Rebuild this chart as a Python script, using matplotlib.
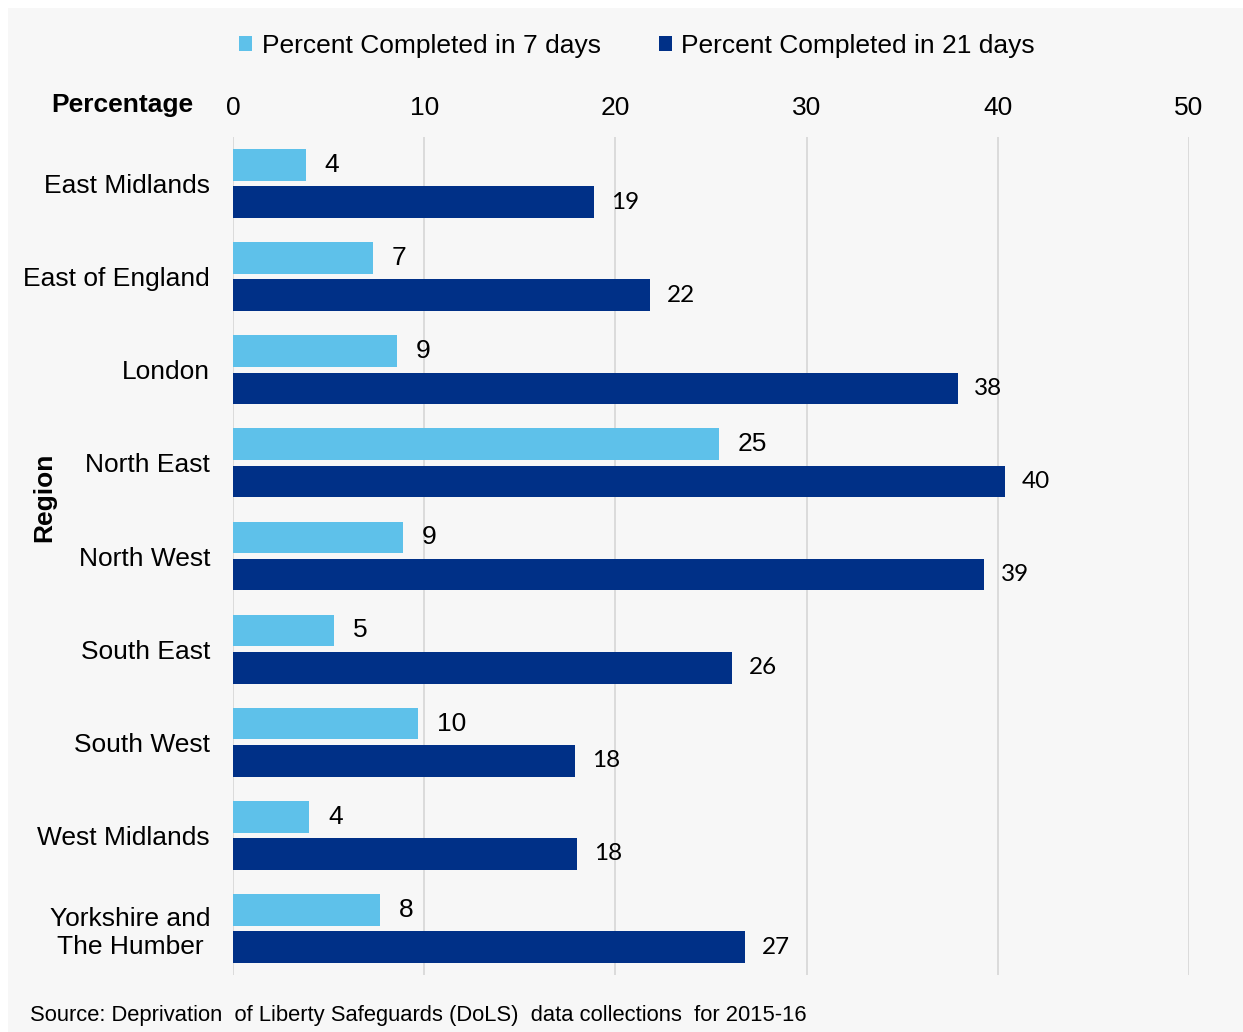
import matplotlib
matplotlib.use("Agg")
import matplotlib.pyplot as plt
import numpy as np
from matplotlib.patches import Rectangle, Patch

# Data: DoLS applications completed within 7 and 21 days, by region (%)
regions = [
    "East Midlands", "East of England", "London", "North East", "North West",
    "South East", "South West", "West Midlands", "Yorkshire and\nThe Humber",
]
pct_7_days = [3.8, 7.3, 8.6, 25.4, 8.9, 5.3, 9.7, 4.0, 7.7]
pct_21_days = [18.9, 21.8, 37.9, 40.4, 39.3, 26.1, 17.9, 18.0, 26.8]
series_names = ["Percent Completed in 7 days", "Percent Completed in 21 days"]
x_ticks = [0, 10, 20, 30, 40, 50]
source_note = "Source: Deprivation  of Liberty Safeguards (DoLS)  data collections  for 2015-16"

LIGHT = "#5EC1EA"
DARK = "#003087"
PANEL = "#F7F7F7"
GRID = "#D9D9D9"
FONT = "Liberation Sans"
FS = 19

W, H = 1243, 1032
fig = plt.figure(figsize=(W / 100, H / 100), dpi=100, facecolor="white")

# light grey panel behind the chart
fig.patches.append(Rectangle((8 / W, 0), 1, 1 - 8 / H, transform=fig.transFigure,
                             facecolor=PANEL, edgecolor="none", zorder=-10))

ax = fig.add_axes([233 / W, 1 - 975 / H, (1189 - 233) / W, (975 - 137) / H])
ax.set_facecolor(PANEL)

y = np.arange(len(regions))
bar_h = 0.34
b7 = ax.barh(y - 0.2, pct_7_days, height=bar_h, color=LIGHT, zorder=3)
b21 = ax.barh(y + 0.2, pct_21_days, height=bar_h, color=DARK, zorder=3)

ax.bar_label(b7, fmt="%.0f", padding=13.5, fontsize=FS, family=FONT, color="black")
ax.bar_label(b21, fmt="%.0f", padding=12, fontsize=17.5, family="Lato", color="black")

ax.set_xlim(0, 50)
ax.set_ylim(len(regions) - 0.5, -0.5)
ax.set_xticks(x_ticks)
ax.xaxis.tick_top()
ax.set_yticks(y)
ax.set_yticklabels(regions)
for lbl in ax.get_yticklabels():
    lbl.set_multialignment("center")

ax.tick_params(axis="both", length=0, labelsize=FS, labelcolor="black")
ax.tick_params(axis="x", pad=12.5)
ax.tick_params(axis="y", pad=16.5)
for lbl in ax.get_xticklabels() + ax.get_yticklabels():
    lbl.set_family(FONT)

ax.grid(axis="x", color=GRID, linewidth=1.3, zorder=0)
ax.grid(axis="y", visible=False)
for s in ax.spines.values():
    s.set_visible(False)

# axis titles
fig.text(193 / W, 1 - 105 / H, "Percentage", ha="right", va="center",
         fontsize=FS, fontweight="bold", family=FONT)
fig.text(44 / W, 1 - 497 / H, "Region", ha="center", va="center", rotation=90,
         fontsize=FS, fontweight="bold", family=FONT)

# legend
handles = [Patch(facecolor=LIGHT, edgecolor="none"), Patch(facecolor=DARK, edgecolor="none")]
fig.legend(handles, series_names, loc="center", bbox_to_anchor=(637 / W, 1 - 46 / H),
           ncol=2, frameon=False, prop={"family": FONT, "size": FS},
           handlelength=0.5, handleheight=0.5, handletextpad=0.35,
           columnspacing=2.2, borderaxespad=0)

fig.text(30 / W, 1 - 1015 / H, source_note, ha="left", va="center",
         fontsize=15.8, family=FONT)

fig.savefig("out.png", dpi=100, facecolor=fig.get_facecolor())
